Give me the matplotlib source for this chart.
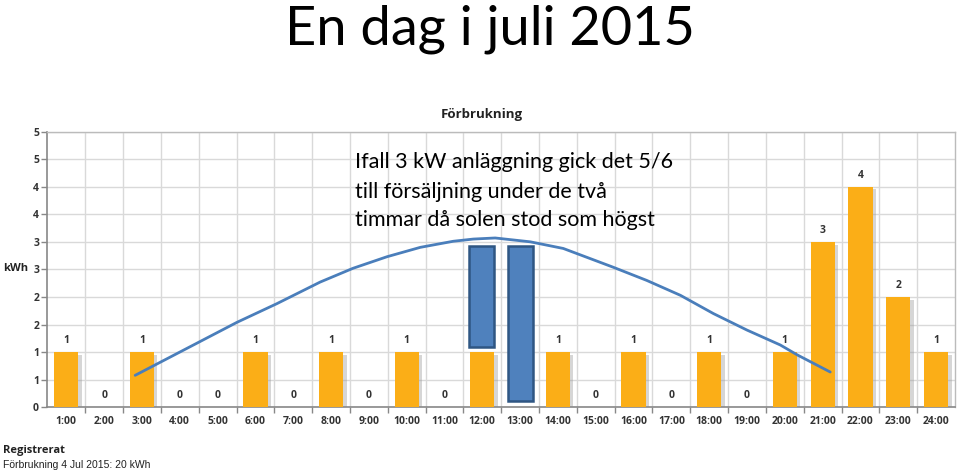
import matplotlib
matplotlib.use("Agg")
import matplotlib.pyplot as plt
from matplotlib.patches import Rectangle

hours = list(range(1, 25))
hour_labels = [f"{h}:00" for h in hours]
consumption = [1, 0, 1, 0, 0, 1, 0, 1, 0, 1, 0, 1, 0, 1, 0, 1, 0, 1, 0, 1, 3, 4, 2, 1]
value_labels = [str(v) for v in consumption]
value_labels_hidden = [12, 13]  # covered by the blue rectangles

y_ticks = [0, 0.5, 1, 1.5, 2, 2.5, 3, 3.5, 4, 4.5, 5]
y_tick_labels = ["0", "1", "1", "2", "2", "3", "3", "4", "4", "5", "5"]

# solar production curve (hour, kWh)
sun_x = [2.82, 5.51, 6.57, 7.71, 8.58, 9.48, 10.36, 11.23, 11.76, 12.34,
         13.27, 14.14, 15.46, 16.35, 17.24, 18.11, 19.00, 19.88, 20.33, 21.20]
sun_y = [0.58, 1.54, 1.88, 2.27, 2.52, 2.73, 2.90, 3.01, 3.05, 3.07,
         3.00, 2.88, 2.54, 2.30, 2.03, 1.70, 1.40, 1.13, 0.95, 0.64]

# sold-energy rectangles: (x_left, x_right, y_bottom, y_top)
sold_rects = [(11.66, 12.30, 1.10, 2.93), (12.68, 13.33, 0.11, 2.93)]

annotation_lines = ["Ifall 3 kW anläggning gick det 5/6",
                    "till försäljning under de två",
                    "timmar då solen stod som högst"]

ORANGE = "#FBAE17"
BLUE_FILL = "#4F81BD"
BLUE_EDGE = "#2F5683"
LINE_BLUE = "#4A7EBB"
TXT = "#333333"
CHART_FONT = ["Open Sans", "DejaVu Sans"]
SLIDE_FONT = ["Lato", "DejaVu Sans"]

W, H = 960, 471
fig = plt.figure(figsize=(W / 100, H / 100), dpi=100)
fig.patch.set_facecolor("white")
ax = fig.add_axes([0.0494, 0.1352, 0.9454, 0.5856])

bar_w = 0.64
# shadows
ax.bar([h + 0.09 for h in hours], [max(v - 0.05, 0) for v in consumption],
       width=bar_w, color="#9A9A9A", alpha=0.4, zorder=2, linewidth=0)
ax.bar(hours, consumption, width=bar_w, color=ORANGE, zorder=3, linewidth=0)

for h, v, lab in zip(hours, consumption, value_labels):
    if h in value_labels_hidden:
        continue
    ax.text(h, v + 0.21, lab, ha="center", va="center", fontsize=7.5,
            fontweight="bold", color=TXT, family=CHART_FONT, zorder=4)

ax.set_xlim(0.5, 24.5)
ax.set_ylim(0, 5)
ax.set_yticks(y_ticks)
ax.set_yticklabels(y_tick_labels)
ax.set_xticks(hours)
ax.set_xticklabels(hour_labels)
ax.set_xticks([h + 0.5 for h in hours[:-1]], minor=True)

ax.grid(axis="y", color="#D9D9D9", linewidth=1, zorder=0)
for x in [h + 0.5 for h in hours[:-1]]:
    ax.axvline(x, color="#D9D9D9", linewidth=1, zorder=0)

for s in ["top", "right"]:
    ax.spines[s].set_color("#BBBBBB")
    ax.spines[s].set_linewidth(1)
for s in ["left", "bottom"]:
    ax.spines[s].set_color("#888888")
    ax.spines[s].set_linewidth(1.2)

ax.tick_params(axis="x", which="major", length=0, pad=6)
ax.tick_params(axis="x", which="minor", length=4, color="#888888", width=1)
ax.tick_params(axis="y", length=4, color="#888888", width=1, pad=2)
for lab in ax.get_xticklabels() + ax.get_yticklabels():
    lab.set_fontsize(7.5)
    lab.set_fontweight("bold")
    lab.set_color(TXT)
    lab.set_family(CHART_FONT)

for (x0, x1, y0, y1) in sold_rects:
    ax.add_patch(Rectangle((x0, y0), x1 - x0, y1 - y0, facecolor=BLUE_FILL,
                           edgecolor=BLUE_EDGE, linewidth=1.8, zorder=5))

ax.plot(sun_x, sun_y, color=LINE_BLUE, linewidth=2, zorder=6,
        solid_capstyle="round", solid_joinstyle="round")

# texts
fig.text(490 / W, 1 - 45 / H, "En dag i juli 2015", ha="center", va="baseline",
         fontsize=39, family=SLIDE_FONT, color="black")
fig.text(0.502, 0.756, "Förbrukning", ha="center", va="center", fontsize=9.5,
         fontweight="bold", family=CHART_FONT, color="#222222")
fig.text(0.003, 0.43, "kWh", ha="left", va="center", fontsize=8,
         fontweight="bold", family=CHART_FONT, color="#222222")
for i, line in enumerate(annotation_lines):
    fig.text(355 / W, 1 - (168.5 + 29 * i) / H, line, ha="left", va="baseline",
             fontsize=15.5, family=SLIDE_FONT, color="black", zorder=7)
fig.text(0.003, 0.043, "Registrerat", ha="left", va="center", fontsize=8,
         fontweight="bold", family=CHART_FONT, color="#222222")
fig.text(0.003, 0.013, "Förbrukning 4 Jul 2015: 20 kWh", ha="left", va="center",
         fontsize=7.5, family=["Liberation Sans", "DejaVu Sans"], color="#222222")

fig.savefig("out.png", dpi=100, facecolor="white")
